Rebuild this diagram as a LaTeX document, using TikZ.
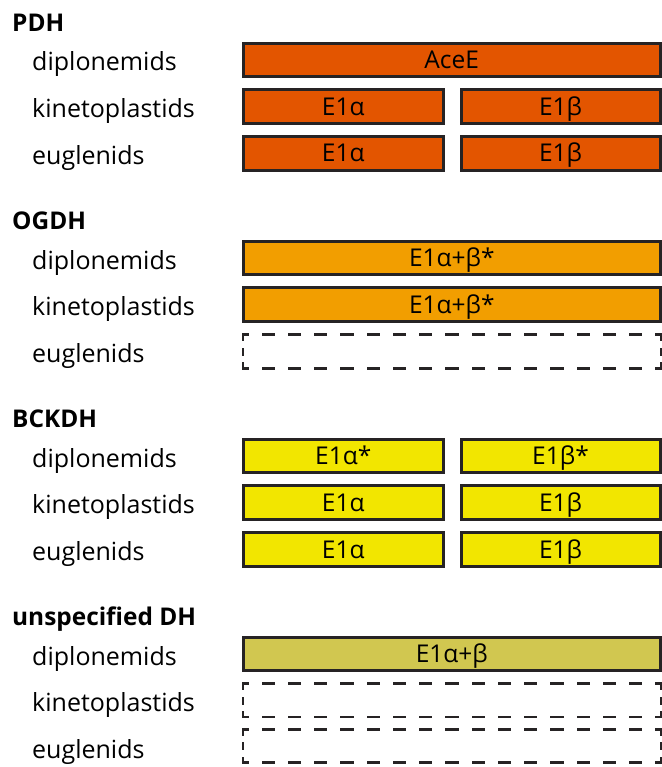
\documentclass[tikz,border=0pt]{standalone}
\usepackage{fontspec}
\setmainfont{Open Sans}
\definecolor{pdhc}{RGB}{227,85,0}
\definecolor{ogdhc}{RGB}{242,158,0}
\definecolor{bckc}{RGB}{242,230,0}
\definecolor{dhc}{RGB}{209,199,80}
\definecolor{edge}{RGB}{38,35,36}
\tikzset{
  box/.style={draw=edge, line width=3pt, minimum height=33.5pt, inner sep=0pt,
     text height=17.4pt, text depth=0pt, font=\fontsize{24.5}{26}\selectfont},
  full/.style={box, minimum width=417.5pt},
  halfl/.style={box, minimum width=200.5pt},
  halfr/.style={box, minimum width=199pt},
  emptybox/.style={draw=none, minimum width=418pt, minimum height=33.5pt, inner sep=0pt, outer sep=0pt},
  dashh/.style={draw=edge, line width=2.6pt, line cap=rect, dash pattern=on 10.6pt off 15.65pt, dash phase=6.25pt},
  dashv/.style={draw=edge, line width=2.6pt, line cap=rect, dash pattern=on 5.2pt off 9.1pt on 5.4pt off 9.1pt on 10pt},
  rowlab/.style={anchor=base west, inner sep=0pt, font=\fontsize{25}{27}\selectfont},
  title/.style={anchor=base west, inner sep=0pt, font=\fontsize{24.4}{26}\selectfont\bfseries},
}
\begin{document}
\begin{tikzpicture}[x=1pt,y=-1pt]
\useasboundingbox (0,0) rectangle (661,767);
% ---- PDH
\node[title] (t1) at (12,31.5) {PDH};
\node[rowlab] (l11) at (32,71) {diplonemids};
\node[rowlab] (l12) at (32,117.7) {kinetoplastids};
\node[rowlab] (l13) at (32,164.3) {euglenids};
\node[full,fill=pdhc] (b11) at (451.75,60) {AceE};
\node[halfl,fill=pdhc] (b12a) at (343.25,106.7) {E1α};
\node[halfr,fill=pdhc] (b12b) at (560.5,106.7) {E1β};
\node[halfl,fill=pdhc] (b13a) at (343.25,153.3) {E1α};
\node[halfr,fill=pdhc] (b13b) at (560.5,153.3) {E1β};
% ---- OGDH
\node[title] (t2) at (12,229.5) {OGDH};
\node[rowlab] (l21) at (32,269) {diplonemids};
\node[rowlab] (l22) at (32,315.7) {kinetoplastids};
\node[rowlab] (l23) at (32,362.3) {euglenids};
\node[full,fill=ogdhc] (b21) at (451.75,258) {E1α+β*};
\node[full,fill=ogdhc] (b22) at (451.75,304.7) {E1α+β*};
\node[emptybox] (b23) at (452,351.5) {};
% ---- BCKDH
\node[title] (t3) at (12,427.5) {BCKDH};
\node[rowlab] (l31) at (32,467) {diplonemids};
\node[rowlab] (l32) at (32,513.7) {kinetoplastids};
\node[rowlab] (l33) at (32,560.3) {euglenids};
\node[halfl,fill=bckc] (b31a) at (343.25,456) {E1α*};
\node[halfr,fill=bckc] (b31b) at (560.5,456) {E1β*};
\node[halfl,fill=bckc] (b32a) at (343.25,502.7) {E1α};
\node[halfr,fill=bckc] (b32b) at (560.5,502.7) {E1β};
\node[halfl,fill=bckc] (b33a) at (343.25,549.3) {E1α};
\node[halfr,fill=bckc] (b33b) at (560.5,549.3) {E1β};
% ---- unspecified DH
\node[title] (t4) at (12,625.5) {unspecified DH};
\node[rowlab] (l41) at (32,665) {diplonemids};
\node[rowlab] (l42) at (32,711.7) {kinetoplastids};
\node[rowlab] (l43) at (32,758.3) {euglenids};
\node[full,fill=dhc] (b41) at (451.75,654) {E1α+β};
\node[emptybox] (b42) at (452,700.3) {};
\node[emptybox] (b43) at (452,746) {};
% dashed outlines of the empty boxes
\foreach \n in {b23,b42,b43}{
  \draw[dashh] (\n.north west) -- (\n.north east);
  \draw[dashh] (\n.south west) -- (\n.south east);
  \draw[dashv] (\n.north west) -- (\n.south west);
  \draw[dashv] (\n.north east) -- (\n.south east);
}
\end{tikzpicture}
\end{document}
